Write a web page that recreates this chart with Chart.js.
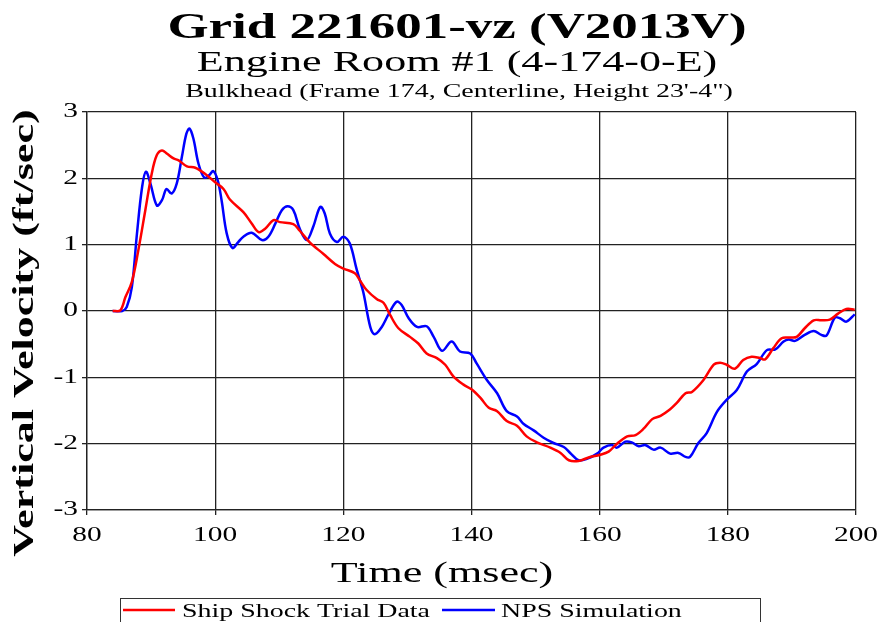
<!DOCTYPE html>
<html>
<head>
<meta charset="utf-8">
<script src="https://cdn.jsdelivr.net/npm/chart.js@4.4.1/dist/chart.umd.min.js"></script>
<style>
html,body{margin:0;padding:0;background:#fff;}
#wrap{width:882px;height:622px;position:relative;}
</style>
</head>
<body>
<div id="wrap"><canvas id="c" width="882" height="622"></canvas></div>
<script>
// ---- data ----
const titleText = "Grid 221601-vz (V2013V)";
const subtitleText = "Engine Room #1 (4-174-0-E)";
const subsubtitleText = "Bulkhead (Frame 174, Centerline, Height 23'-4\")";
const xAxisTitle = "Time (msec)";
const yAxisTitle = "Vertical Velocity (ft/sec)";
const seriesNames = ["Ship Shock Trial Data", "NPS Simulation"];
const xTickLabels = [80, 100, 120, 140, 160, 180, 200];
const yTickLabels = [3, 2, 1, 0, -1, -2, -3];

const trialTime = [84, 85.2, 86, 87, 88, 89.1, 90.1, 90.9, 91.7, 92.5, 93.5, 94.3, 95.6, 96.9, 98.4, 100, 101.3, 102.3, 104.4, 105.7, 106.8, 107.8, 109.1, 110.1, 112.2, 113.2, 114.8, 116.9, 118.7, 120, 121.8, 122.6, 123.6, 125.2, 126.3, 127.3, 128.6, 130.4, 131.7, 133, 134.6, 135.9, 137.2, 138.75, 140, 141.4, 142.7, 144, 145.5, 147.1, 148.6, 150.2, 152.3, 153.9, 155.2, 156.7, 158.5, 160, 161.4, 162.7, 164.3, 165.6, 166.9, 168.2, 169.5, 171, 172, 173.4, 174.4, 176.2, 177.8, 178.8, 179.8, 181.1, 182.4, 183.7, 185, 185.8, 187.1, 188.4, 189.7, 190.75, 192, 193.4, 194.6, 195.9, 197.2, 198.5, 199.8];
const trialVel = [0, 0.01, 0.21, 0.44, 0.91, 1.52, 2.07, 2.35, 2.42, 2.37, 2.30, 2.27, 2.18, 2.16, 2.07, 1.94, 1.84, 1.68, 1.49, 1.32, 1.19, 1.24, 1.37, 1.34, 1.31, 1.21, 1.03, 0.86, 0.71, 0.64, 0.57, 0.46, 0.32, 0.18, 0.12, -0.06, -0.26, -0.39, -0.49, -0.64, -0.71, -0.81, -0.99, -1.11, -1.18, -1.31, -1.46, -1.51, -1.66, -1.73, -1.89, -1.98, -2.06, -2.14, -2.25, -2.26, -2.20, -2.17, -2.12, -2.00, -1.89, -1.87, -1.77, -1.63, -1.58, -1.48, -1.39, -1.24, -1.22, -1.04, -0.81, -0.78, -0.81, -0.87, -0.74, -0.69, -0.71, -0.73, -0.56, -0.41, -0.40, -0.39, -0.26, -0.14, -0.14, -0.13, -0.04, 0.03, 0.02];

const simTime = [84, 85.5, 86.2, 87, 87.8, 88.6, 89.2, 89.9, 90.9, 91.7, 92.4, 93.2, 94, 94.8, 95.5, 96, 96.6, 97.4, 98.3, 99.1, 99.7, 100.4, 101, 101.8, 102.7, 103.6, 104.4, 105.7, 107.3, 108.3, 109.4, 110.4, 111.3, 112.2, 113.2, 114.3, 115.3, 116.4, 117.1, 117.9, 119, 120, 121, 122.1, 123.1, 124.2, 124.9, 126, 127, 128.3, 129.1, 130.2, 131.5, 133, 134.1, 135.4, 136.9, 138.2, 139.8, 140.8, 142.4, 144, 145.5, 147.1, 148.1, 149.7, 151.25, 152.8, 154.4, 155.4, 156.7, 158, 159.6, 160.6, 161.9, 162.7, 164, 165, 166.1, 167.1, 168.4, 169.5, 171, 172.3, 173.4, 174.1, 175.4, 176.7, 178.3, 179.8, 181.4, 183, 184.5, 186.1, 187.4, 188.7, 189.5, 190.5, 192, 193.4, 194.6, 195.4, 196.7, 197.5, 198.5, 199.8];
const simVel = [0, 0, 0.06, 0.36, 1.17, 1.87, 2.10, 1.92, 1.59, 1.67, 1.84, 1.77, 1.92, 2.32, 2.67, 2.75, 2.60, 2.22, 2.01, 2.05, 2.11, 1.97, 1.67, 1.17, 0.95, 1.04, 1.12, 1.18, 1.07, 1.12, 1.32, 1.52, 1.58, 1.52, 1.24, 1.07, 1.27, 1.57, 1.47, 1.17, 1.04, 1.12, 1.02, 0.62, 0.29, -0.24, -0.35, -0.24, -0.06, 0.14, 0.09, -0.11, -0.24, -0.23, -0.39, -0.60, -0.46, -0.61, -0.64, -0.79, -1.04, -1.24, -1.51, -1.59, -1.70, -1.80, -1.91, -1.99, -2.05, -2.14, -2.25, -2.23, -2.15, -2.06, -2.02, -2.06, -1.97, -1.98, -2.04, -2.02, -2.09, -2.06, -2.15, -2.14, -2.20, -2.20, -1.99, -1.84, -1.52, -1.34, -1.19, -0.91, -0.80, -0.59, -0.58, -0.46, -0.43, -0.45, -0.36, -0.30, -0.36, -0.37, -0.10, -0.11, -0.16, -0.05];

// ---- styles ----
const SERIF = '"Liberation Serif", "Times New Roman", serif';
const SX = 1.47; // horizontal text stretch seen in the reference
const colors = ["#ff0000", "#0000ff"];

function toPoints(xs, ys) { return xs.map((x, i) => ({x: x, y: ys[i]})); }

function sText(ctx, text, x, y, font, align, baseline, rot) {
  ctx.save();
  ctx.translate(x, y);
  if (rot) ctx.rotate(rot);
  ctx.scale(SX, 1);
  ctx.font = font;
  ctx.fillStyle = "#000";
  ctx.textAlign = align;
  ctx.textBaseline = baseline;
  ctx.fillText(text, 0, 0);
  ctx.restore();
}

const textPlugin = {
  id: 'texts',
  afterDraw(chart) {
    const ctx = chart.ctx;
    const xs = chart.scales.x, ys = chart.scales.y;
    sText(ctx, titleText, 457, 38, 'bold 36px ' + SERIF, 'center', 'alphabetic');
    sText(ctx, subtitleText, 457, 71, '30px ' + SERIF, 'center', 'alphabetic');
    sText(ctx, subsubtitleText, 459, 97, '19px ' + SERIF, 'center', 'alphabetic');
    // tick labels
    xTickLabels.forEach(v => sText(ctx, String(v), xs.getPixelForValue(v), 541, '20px ' + SERIF, 'center', 'alphabetic'));
    yTickLabels.forEach(v => sText(ctx, String(v), 78, ys.getPixelForValue(v), '20px ' + SERIF, 'right', 'middle'));
    // axis titles
    sText(ctx, xAxisTitle, 442, 582, '30px ' + SERIF, 'center', 'alphabetic');
    sText(ctx, yAxisTitle, 33, 333, 'bold 30px ' + SERIF, 'center', 'alphabetic', -Math.PI / 2);
    // legend
    ctx.save();
    ctx.strokeStyle = "#333";
    ctx.lineWidth = 1;
    ctx.strokeRect(120.5, 598.5, 640, 40);
    const items = [{x1: 123, x2: 175, tx: 182}, {x1: 442, x2: 495, tx: 501}];
    items.forEach((it, i) => {
      ctx.strokeStyle = colors[i];
      ctx.lineWidth = 2.5;
      ctx.beginPath(); ctx.moveTo(it.x1, 610); ctx.lineTo(it.x2, 610); ctx.stroke();
      sText(ctx, seriesNames[i], it.tx, 617, '19px ' + SERIF, 'left', 'alphabetic');
    });
    ctx.restore();
  }
};

new Chart(document.getElementById('c'), {
  type: 'line',
  data: {
    datasets: [
      {label: seriesNames[0], data: toPoints(trialTime, trialVel), borderColor: colors[0], backgroundColor: colors[0], borderWidth: 2.5, pointRadius: 0, tension: 0.35, fill: false},
      {label: seriesNames[1], data: toPoints(simTime, simVel), borderColor: colors[1], backgroundColor: colors[1], borderWidth: 2.5, pointRadius: 0, tension: 0.35, fill: false}
    ]
  },
  options: {
    responsive: false,
    animation: false,
    devicePixelRatio: 1,
    layout: {padding: {top: 112, right: 26, left: 0, bottom: 0}},
    plugins: {legend: {display: false}, title: {display: false}, tooltip: {enabled: false}},
    scales: {
      x: {
        type: 'linear', min: 80, max: 200,
        afterBuildTicks: s => { s.ticks = xTickLabels.map(v => ({value: v})); },
        afterFit: s => { s.height = 112; },
        ticks: {display: false},
        grid: {color: '#222', lineWidth: 1.3, drawTicks: true, tickLength: 5},
        border: {display: true, color: '#222', width: 1.3}
      },
      y: {
        type: 'linear', min: -3, max: 3,
        afterBuildTicks: s => { s.ticks = yTickLabels.map(v => ({value: v})); },
        afterFit: s => { s.width = 87; },
        ticks: {display: false},
        grid: {color: '#222', lineWidth: 1.3, drawTicks: true, tickLength: 5},
        border: {display: true, color: '#222', width: 1.3}
      }
    }
  },
  plugins: [textPlugin]
});
</script>
</body>
</html>
